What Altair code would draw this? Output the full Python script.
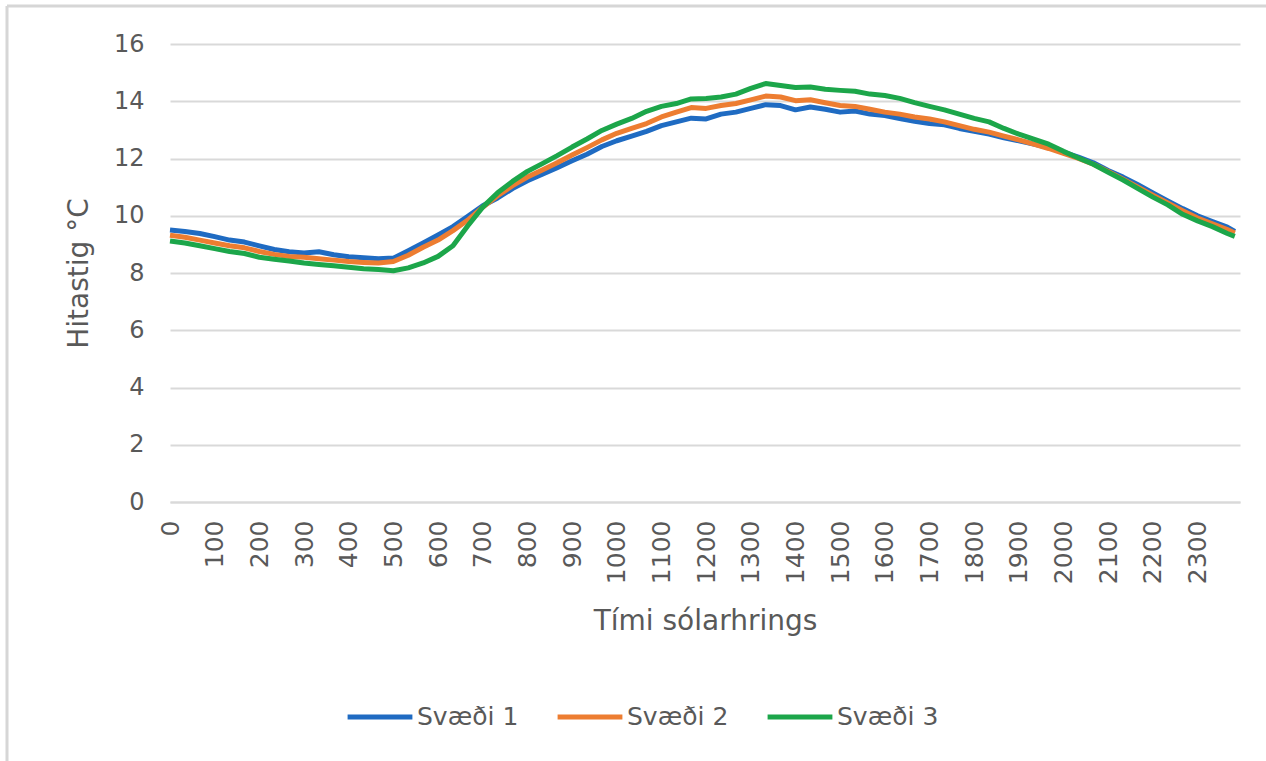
import altair as alt
import pandas as pd

# Time of day in hours (20-minute readings, last one at 23:50)
hours = [k / 3 for k in range(72)] + [23 + 50 / 60]

svaedi_1 = [
    9.50, 9.45, 9.38, 9.27, 9.15, 9.08, 8.95, 8.82, 8.74, 8.70, 8.74, 8.64,
    8.57, 8.53, 8.50, 8.52, 8.78, 9.05, 9.33, 9.62, 9.98, 10.35, 10.62, 10.95,
    11.22, 11.45, 11.68, 11.92, 12.15, 12.42, 12.62, 12.78, 12.95, 13.15, 13.28, 13.41,
    13.38, 13.55, 13.62, 13.75, 13.88, 13.85, 13.70, 13.80, 13.72, 13.62, 13.66, 13.55,
    13.50, 13.40, 13.30, 13.22, 13.18, 13.05, 12.95, 12.85, 12.72, 12.62, 12.50, 12.38,
    12.22, 12.05, 11.85, 11.58, 11.35, 11.08, 10.80, 10.52, 10.25, 10.00, 9.80, 9.60,
    9.45,
]
svaedi_2 = [
    9.32, 9.25, 9.15, 9.05, 8.95, 8.88, 8.75, 8.65, 8.58, 8.55, 8.50, 8.45,
    8.40, 8.37, 8.35, 8.40, 8.62, 8.90, 9.15, 9.48, 9.85, 10.30, 10.70, 11.05,
    11.35, 11.60, 11.85, 12.12, 12.38, 12.65, 12.88, 13.05, 13.22, 13.45, 13.62, 13.78,
    13.75, 13.85, 13.92, 14.05, 14.18, 14.15, 14.02, 14.05, 13.95, 13.85, 13.82, 13.72,
    13.62, 13.55, 13.45, 13.38, 13.28, 13.15, 13.02, 12.92, 12.78, 12.65, 12.50, 12.35,
    12.18, 12.00, 11.80, 11.55, 11.28, 11.00, 10.72, 10.45, 10.18, 9.92, 9.72, 9.52,
    9.40,
]
svaedi_3 = [
    9.12, 9.05, 8.95, 8.85, 8.75, 8.68, 8.55, 8.48, 8.42, 8.35, 8.30, 8.25,
    8.20, 8.15, 8.12, 8.08, 8.18, 8.35, 8.58, 8.95, 9.65, 10.30, 10.80, 11.20,
    11.55, 11.82, 12.10, 12.40, 12.68, 12.98, 13.20, 13.40, 13.65, 13.82, 13.92, 14.08,
    14.10, 14.15, 14.25, 14.45, 14.62, 14.55, 14.48, 14.50, 14.42, 14.38, 14.35, 14.25,
    14.20, 14.10, 13.95, 13.82, 13.70, 13.55, 13.40, 13.28, 13.05, 12.85, 12.68, 12.50,
    12.25, 12.02, 11.80, 11.52, 11.25, 10.95, 10.65, 10.38, 10.05, 9.82, 9.62, 9.38,
    9.28,
]

series_names = ["Svæði 1", "Svæði 2", "Svæði 3"]
series_colors = ["#1f6bc2", "#ed7d31", "#1ca64a"]
hour_ticks = list(range(24))
y_ticks = list(range(0, 17, 2))

rows = []
for name, values in zip(series_names, [svaedi_1, svaedi_2, svaedi_3]):
    for h, v in zip(hours, values):
        rows.append({"tími": h, "hiti": v, "svæði": name})
df = pd.DataFrame(rows)

FONT = "DejaVu Sans"
GREY = "#595959"
PLOT_W = 1070
PLOT_H = 458

lines = alt.Chart(df).mark_line(strokeWidth=5, strokeJoin="round").encode(
    x=alt.X(
        "tími:Q",
        scale=alt.Scale(domain=[0, 23.95], nice=False, zero=False),
        axis=alt.Axis(
            values=hour_ticks,
            labelExpr="format(datum.value * 100, 'd')",
            labelAngle=270,
            labelAlign="right",
            labelBaseline="middle",
            labelPadding=18,
            labelFontSize=25,
            labelColor=GREY,
            labelFont=FONT,
            ticks=False,
            grid=False,
            domain=True,
            domainColor="#d9d9d9",
            domainWidth=2,
            title="Tími sólarhrings",
            titleFont=FONT,
            titleFontSize=28,
            titleFontWeight="normal",
            titleColor=GREY,
            titlePadding=24,
        ),
    ),
    y=alt.Y(
        "hiti:Q",
        scale=alt.Scale(domain=[0, 16], nice=False),
        axis=alt.Axis(
            values=y_ticks,
            labelFontSize=24,
            labelColor=GREY,
            labelFont=FONT,
            labelPadding=26,
            ticks=False,
            domain=False,
            grid=True,
            gridColor="#d9d9d9",
            gridWidth=2,
            title="Hitastig °C",
            titleFont=FONT,
            titleFontSize=28,
            titleFontWeight="normal",
            titleColor=GREY,
            titlePadding=20,
        ),
    ),
    color=alt.Color(
        "svæði:N",
        scale=alt.Scale(domain=series_names, range=series_colors),
        legend=alt.Legend(
            title=None,
            orient="none",
            direction="horizontal",
            legendX=175,
            legendY=638,
            symbolType="stroke",
            symbolSize=4200,
            symbolStrokeWidth=5,
            labelFont=FONT,
            labelFontSize=25,
            labelColor=GREY,
            labelOffset=2,
            columnPadding=28,
        ),
    ),
)

# Thin grey frame along the top and left edges of the picture
frame_top = alt.Chart(pd.DataFrame({"k": [0]})).mark_rule(
    color="#d6d6d6", strokeWidth=3
).encode(x=alt.value(-163), x2=alt.value(1096), y=alt.value(-38))
frame_left = alt.Chart(pd.DataFrame({"k": [0]})).mark_rule(
    color="#d6d6d6", strokeWidth=3
).encode(x=alt.value(-163), y=alt.value(-38), y2=alt.value(717))

chart = (
    alt.layer(frame_top, frame_left, lines)
    .properties(
        width=PLOT_W,
        height=PLOT_H,
        autosize=alt.AutoSizeParams(type="none"),
        padding={"left": 170, "top": 44, "right": 26, "bottom": 259},
        background="white",
    )
    .configure_view(stroke=None)
)

chart.save("out.html", embed_options={"renderer": "svg", "actions": False})
